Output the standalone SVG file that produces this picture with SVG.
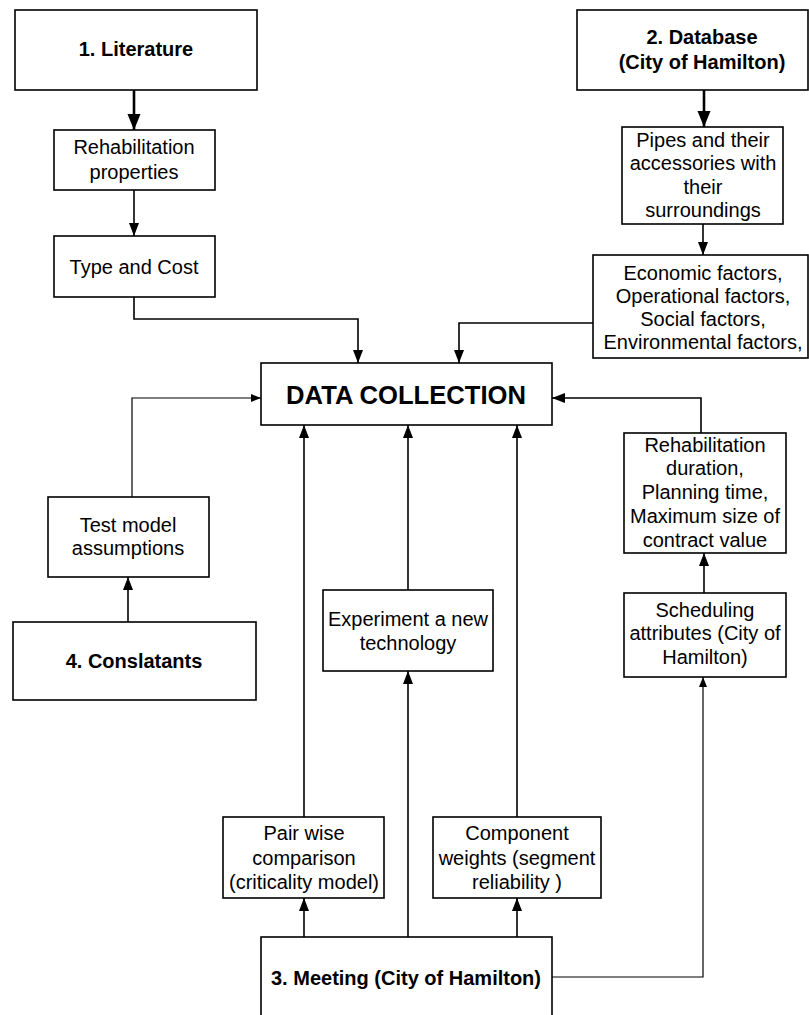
<svg xmlns="http://www.w3.org/2000/svg" width="809" height="1015" viewBox="0 0 809 1015">
  <style>
    .box { fill: #ffffff; stroke: #000000; stroke-width: 1.6; }
    .t { font-family: "Liberation Sans", Arial, sans-serif; font-size: 20px; fill: #000000; text-anchor: middle; }
    .b { font-weight: bold; }
    .big { font-size: 25.6px; }
    .thick { fill: none; stroke: #000000; stroke-width: 2.6; }
    .mid { fill: none; stroke: #000000; stroke-width: 1.6; }
    .thin { fill: none; stroke: #000000; stroke-width: 1.2; }
  </style>
  <defs>
    <marker id="headL" markerUnits="userSpaceOnUse" markerWidth="14" markerHeight="18" refX="16" refY="6.5" orient="auto">
      <path d="M0,0 L16,6.5 L0,13 Z" fill="#000000"/>
    </marker>
    <marker id="headM" markerUnits="userSpaceOnUse" markerWidth="14" markerHeight="14" refX="13" refY="5" orient="auto">
      <path d="M0,0 L13,5 L0,10 Z" fill="#000000"/>
    </marker>
    <marker id="headS" markerUnits="userSpaceOnUse" markerWidth="12" markerHeight="10" refX="10" refY="4" orient="auto">
      <path d="M0,0 L10,4 L0,8 Z" fill="#000000"/>
    </marker>
  </defs>

  <!-- connectors -->
  <g id="connectors">
    <line class="thick" x1="134" y1="90" x2="134" y2="130" marker-end="url(#headL)"/>
    <line class="mid" x1="134" y1="190" x2="134" y2="236" marker-end="url(#headM)"/>
    <path class="mid" d="M134,297 V319 H358 V363" marker-end="url(#headM)"/>
    <line class="thick" x1="704" y1="90" x2="704" y2="127" marker-end="url(#headL)"/>
    <line class="mid" x1="703" y1="224" x2="703" y2="255" marker-end="url(#headM)"/>
    <path class="mid" d="M593,323 H459 V363" marker-end="url(#headM)"/>
    <path class="thin" d="M132,497 V398 H261" marker-end="url(#headS)"/>
    <line class="mid" x1="128" y1="622" x2="128" y2="577" marker-end="url(#headM)"/>
    <path class="mid" d="M701,433 V398 H552" marker-end="url(#headM)"/>
    <line class="mid" x1="704" y1="593" x2="704" y2="553" marker-end="url(#headM)"/>
    <line class="mid" x1="304" y1="817" x2="304" y2="425" marker-end="url(#headM)"/>
    <line class="mid" x1="408" y1="590" x2="408" y2="425" marker-end="url(#headM)"/>
    <line class="mid" x1="517" y1="817" x2="517" y2="425" marker-end="url(#headM)"/>
    <line class="mid" x1="304" y1="937" x2="304" y2="898" marker-end="url(#headM)"/>
    <line class="mid" x1="408" y1="937" x2="408" y2="671" marker-end="url(#headM)"/>
    <line class="mid" x1="517" y1="937" x2="517" y2="898" marker-end="url(#headM)"/>
    <path class="thin" d="M552,977 H703 V677" marker-end="url(#headS)"/>
  </g>

  <!-- sources -->
  <g id="literature">
    <rect class="box" x="15" y="10" width="242" height="80"/>
    <text class="t b" x="136" y="56">1. Literature</text>
  </g>
  <g id="rehab-properties">
    <rect class="box" x="54" y="130" width="161" height="60"/>
    <text class="t" x="134" y="154">Rehabilitation</text>
    <text class="t" x="134" y="179">properties</text>
  </g>
  <g id="type-cost">
    <rect class="box" x="54" y="236" width="161" height="61"/>
    <text class="t" x="134" y="274">Type and Cost</text>
  </g>

  <g id="database">
    <rect class="box" x="577" y="10" width="231" height="80"/>
    <text class="t b" x="702" y="44">2. Database</text>
    <text class="t b" x="702" y="69">(City of Hamilton)</text>
  </g>
  <g id="pipes">
    <rect class="box" x="622" y="127" width="161" height="97"/>
    <text class="t" x="703" y="147">Pipes and their</text>
    <text class="t" x="703" y="170">accessories with</text>
    <text class="t" x="703" y="194">their</text>
    <text class="t" x="703" y="217">surroundings</text>
  </g>
  <g id="factors">
    <rect class="box" x="593" y="255" width="215" height="103"/>
    <text class="t" x="703" y="280">Economic factors,</text>
    <text class="t" x="703" y="303">Operational factors,</text>
    <text class="t" x="703" y="326">Social factors,</text>
    <text class="t" x="703" y="349">Environmental factors,</text>
  </g>

  <!-- hub -->
  <g id="data-collection">
    <rect class="box" x="261" y="363" width="291" height="62"/>
    <text class="t b big" x="406" y="404">DATA COLLECTION</text>
  </g>

  <g id="test-model">
    <rect class="box" x="48" y="497" width="161" height="80"/>
    <text class="t" x="128" y="532">Test model</text>
    <text class="t" x="128" y="555">assumptions</text>
  </g>
  <g id="conslatants">
    <rect class="box" x="13" y="622" width="243" height="78"/>
    <text class="t b" x="134" y="668">4. Conslatants</text>
  </g>

  <g id="rehab-duration">
    <rect class="box" x="624" y="433" width="162" height="120"/>
    <text class="t" x="705" y="452">Rehabilitation</text>
    <text class="t" x="705" y="475">duration,</text>
    <text class="t" x="705" y="499">Planning time,</text>
    <text class="t" x="705" y="523">Maximum size of</text>
    <text class="t" x="705" y="547">contract value</text>
  </g>
  <g id="scheduling">
    <rect class="box" x="624" y="593" width="162" height="84"/>
    <text class="t" x="705" y="617">Scheduling</text>
    <text class="t" x="705" y="640">attributes (City of</text>
    <text class="t" x="705" y="664">Hamilton)</text>
  </g>

  <g id="experiment">
    <rect class="box" x="323" y="590" width="170" height="81"/>
    <text class="t" x="408" y="626">Experiment a new</text>
    <text class="t" x="408" y="650">technology</text>
  </g>

  <g id="pairwise">
    <rect class="box" x="223" y="817" width="161" height="81"/>
    <text class="t" x="304" y="840">Pair wise</text>
    <text class="t" x="304" y="865">comparison</text>
    <text class="t" x="304" y="889">(criticality model)</text>
  </g>
  <g id="component-weights">
    <rect class="box" x="433" y="817" width="168" height="81"/>
    <text class="t" x="517" y="840">Component</text>
    <text class="t" x="517" y="865">weights (segment</text>
    <text class="t" x="517" y="889">reliability )</text>
  </g>

  <g id="meeting">
    <rect class="box" x="261" y="937" width="291" height="90"/>
    <text class="t b" x="406" y="985">3. Meeting (City of Hamilton)</text>
  </g>
</svg>
